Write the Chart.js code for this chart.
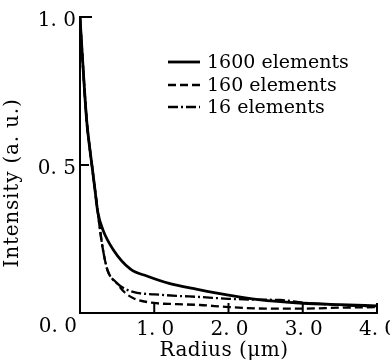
<!DOCTYPE html>
<html>
<head>
<meta charset="utf-8">
<script src="https://cdn.jsdelivr.net/npm/chart.js@4"></script>
<style>
  html, body { margin: 0; padding: 0; background: #fff; }
  #wrap { width: 390px; height: 362px; }
</style>
</head>
<body>
<div id="wrap"><canvas id="intensityChart" width="390" height="362"></canvas></div>
<script>
// radius (um) and intensity (a.u.)
var radius1600 = [0, 0.035, 0.09, 0.12, 0.16, 0.2, 0.24, 0.31, 0.45, 0.68, 0.9, 1.2, 1.58, 2.0, 2.4, 3.0, 3.5, 4.0];
var int1600    = [1.0, 0.855, 0.65, 0.58, 0.5, 0.42, 0.34, 0.28, 0.213, 0.148, 0.125, 0.1, 0.08, 0.06, 0.045, 0.033, 0.028, 0.024];

var radius160 = [0, 0.035, 0.09, 0.12, 0.16, 0.2, 0.24, 0.27, 0.31, 0.37, 0.5, 0.6, 0.72, 0.99, 1.3, 1.62, 2.0, 2.5, 3.0, 3.5, 4.0];
var int160    = [1.0, 0.855, 0.65, 0.58, 0.5, 0.42, 0.34, 0.28, 0.213, 0.145, 0.1, 0.07, 0.05, 0.034, 0.03, 0.027, 0.02, 0.015, 0.015, 0.018, 0.02];

var radius16 = [0, 0.035, 0.09, 0.12, 0.16, 0.2, 0.24, 0.27, 0.31, 0.37, 0.5, 0.62, 0.77, 1.0, 1.3, 1.62, 2.0, 2.4, 2.7, 3.0, 3.5, 4.0];
var int16    = [1.0, 0.855, 0.65, 0.58, 0.5, 0.42, 0.34, 0.28, 0.213, 0.145, 0.1, 0.08, 0.068, 0.063, 0.058, 0.054, 0.048, 0.045, 0.044, 0.035, 0.027, 0.022];

var seriesNames = ['1600 elements', '160 elements', '16 elements'];
var xTicks = [0, 1, 2, 3, 4];
var yTicks = [0, 0.5, 1.0];

function fmt(v) { return v.toFixed(1).replace('.', '. '); }
function pts(xs, ys) { return xs.map(function (x, i) { return { x: x, y: ys[i] }; }); }

var dashes = [[], [8, 4], [10, 3, 2, 3]];
var widths = [2.8, 2.3, 2.3];
var serif = '"DejaVu Serif", serif';

//***************//
// extras: inward ticks, legend, titles
//***************//
var extras = {
  id: 'extras',
  afterDraw: function (chart) {
    var ctx = chart.ctx, xs = chart.scales.x, ys = chart.scales.y;
    var a = chart.chartArea;
    ctx.save();
    ctx.strokeStyle = '#000';
    ctx.fillStyle = '#000';
    ctx.lineWidth = 2;
    // inward tick marks
    xTicks.slice(1).forEach(function (v) {
      var px = xs.getPixelForValue(v);
      ctx.beginPath(); ctx.moveTo(px, a.bottom); ctx.lineTo(px, a.bottom - 10); ctx.stroke();
    });
    yTicks.slice(1).forEach(function (v) {
      var py = ys.getPixelForValue(v);
      ctx.beginPath(); ctx.moveTo(a.left, py); ctx.lineTo(a.left + (v === 1 ? 12 : 9), py); ctx.stroke();
    });
    // 0.0 at origin corner
    ctx.font = '20px ' + serif;
    ctx.textAlign = 'right';
    ctx.textBaseline = 'middle';
    ctx.fillText(fmt(0), a.left - 3, 327);

    // legend
    var rows = [62, 85, 107];
    ctx.font = '19px ' + serif;
    ctx.textAlign = 'left';
    seriesNames.forEach(function (name, i) {
      ctx.setLineDash(dashes[i]);
      ctx.lineWidth = widths[i];
      ctx.beginPath(); ctx.moveTo(168, rows[i]); ctx.lineTo(200, rows[i]); ctx.stroke();
      ctx.setLineDash([]);
      ctx.fillText(name, 207, rows[i] + 1);
    });

    // axis titles
    ctx.font = '20px ' + serif;
    ctx.textAlign = 'center';
    ctx.letterSpacing = '0.5px';
    ctx.fillText('Radius (\u03bcm)', 224, 351);
    ctx.letterSpacing = '0.8px';
    ctx.translate(13, 183);
    ctx.rotate(-Math.PI / 2);
    ctx.fillText('Intensity (a. u.)', 0, 0);
    ctx.restore();
  }
};

var ctx = document.getElementById('intensityChart');

new Chart(ctx, {
  type: 'line',
  data: {
    datasets: [
      { label: seriesNames[0], data: pts(radius1600, int1600) },
      { label: seriesNames[1], data: pts(radius160, int160) },
      { label: seriesNames[2], data: pts(radius16, int16) }
    ].map(function (d, i) {
      d.borderColor = '#000';
      d.borderWidth = widths[i];
      d.borderDash = dashes[i];
      d.pointRadius = 0;
      d.fill = false;
      d.cubicInterpolationMode = 'monotone';
      return d;
    })
  },
  options: {
    responsive: false,
    animation: false,
    layout: { padding: { top: 17, right: 13, left: 0, bottom: 0 } },
    plugins: {
      legend: { display: false },
      tooltip: { enabled: false }
    },
    scales: {
      x: {
        type: 'linear',
        min: 0,
        max: 4,
        afterBuildTicks: function (s) { s.ticks = xTicks.map(function (v) { return { value: v }; }); },
        afterFit: function (s) { s.height = 49; s.paddingLeft = 0; s.paddingRight = 0; },
        grid: { display: false, drawTicks: false },
        border: { display: true, color: '#000', width: 2 },
        ticks: {
          padding: 5,
          labelOffset: 1,
          maxRotation: 0,
          autoSkip: false,
          color: '#000',
          font: { family: serif, size: 20 },
          callback: function (v) { return v === 0 ? '' : fmt(v); }
        }
      },
      y: {
        min: 0,
        max: 1,
        afterBuildTicks: function (s) { s.ticks = yTicks.map(function (v) { return { value: v }; }); },
        afterFit: function (s) { s.width = 80; s.paddingTop = 0; s.paddingBottom = 0; },
        grid: { display: false, drawTicks: false },
        border: { display: true, color: '#000', width: 2 },
        ticks: {
          padding: 4,
          labelOffset: 4,
          color: '#000',
          font: { family: serif, size: 20 },
          callback: function (v) { return v === 0 ? '' : fmt(v); }
        }
      }
    }
  },
  plugins: [extras]
});
</script>
</body>
</html>
